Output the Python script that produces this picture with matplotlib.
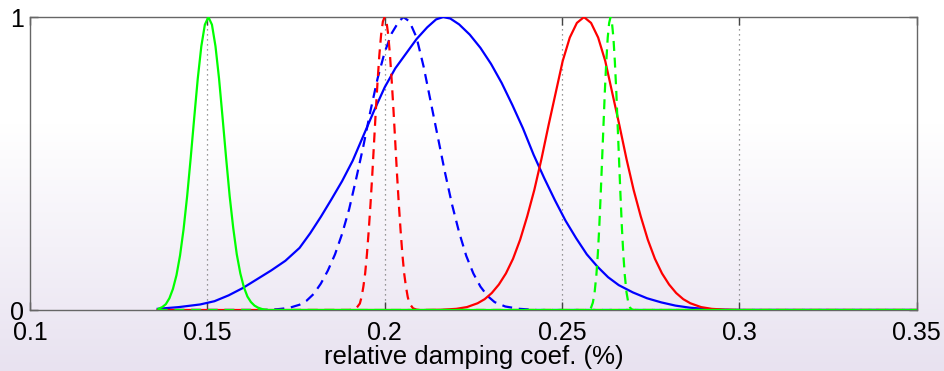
import numpy as np
import matplotlib.pyplot as plt
from matplotlib.colors import LinearSegmentedColormap

plt.rcParams['font.family'] = ['Liberation Sans', 'DejaVu Sans']

# ==========================================
# curve samples (x: relative damping, y: normalised pdf)
# ==========================================
blue_solid_x = [0.136, 0.142, 0.148, 0.152, 0.156, 0.160, 0.164, 0.168, 0.172, 0.176,
                0.179, 0.182, 0.185, 0.188, 0.191, 0.194, 0.197, 0.200, 0.203, 0.206,
                0.209, 0.212, 0.2145, 0.2165, 0.2185, 0.221, 0.224, 0.227, 0.230, 0.233,
                0.236, 0.239, 0.242, 0.245, 0.248, 0.251, 0.254, 0.257, 0.260, 0.263,
                0.266, 0.270, 0.274, 0.278, 0.282, 0.286, 0.290, 0.295, 0.300, 0.350]
blue_solid_y = [0.004, 0.010, 0.019, 0.030, 0.050, 0.075, 0.105, 0.135, 0.168, 0.212,
                0.262, 0.318, 0.378, 0.440, 0.510, 0.595, 0.680, 0.760, 0.825, 0.875,
                0.925, 0.965, 0.992, 1.000, 0.995, 0.975, 0.940, 0.895, 0.840, 0.775,
                0.700, 0.620, 0.530, 0.450, 0.375, 0.305, 0.245, 0.190, 0.148, 0.112,
                0.085, 0.060, 0.040, 0.026, 0.015, 0.008, 0.004, 0.001, 0.0, 0.0]

blue_dash_x = [0.136, 0.166, 0.170, 0.173, 0.176, 0.178, 0.180, 0.182, 0.184, 0.186,
               0.188, 0.190, 0.192, 0.194, 0.196, 0.198, 0.200, 0.202, 0.204, 0.2053,
               0.207, 0.209, 0.211, 0.213, 0.215, 0.217, 0.219, 0.221, 0.223, 0.225,
               0.227, 0.229, 0.231, 0.234, 0.238, 0.243, 0.350]
blue_dash_y = [0.0, 0.0, 0.003, 0.007, 0.018, 0.032, 0.055, 0.090, 0.135, 0.190,
               0.260, 0.345, 0.450, 0.560, 0.680, 0.790, 0.880, 0.945, 0.985, 1.000,
               0.985, 0.930, 0.830, 0.710, 0.590, 0.470, 0.360, 0.265, 0.185, 0.125,
               0.080, 0.048, 0.027, 0.012, 0.004, 0.0, 0.0]

red_dash_x = [0.136, 0.1900, 0.1910, 0.1920, 0.1930, 0.1935, 0.1940, 0.1945, 0.1950, 0.1955,
              0.1960, 0.1965, 0.1970, 0.1975, 0.1980, 0.1985, 0.1990, 0.1995, 0.2000,
              0.2005, 0.2010, 0.2015, 0.2020, 0.2025, 0.2030, 0.2035, 0.2040, 0.2045,
              0.2050, 0.2055, 0.2060, 0.2065, 0.2070, 0.2080, 0.2090, 0.2100, 0.350]
red_dash_y = [0.0, 0.0, 0.001, 0.006, 0.022, 0.045, 0.080, 0.125, 0.190, 0.270,
              0.360, 0.460, 0.570, 0.680, 0.780, 0.870, 0.940, 0.985, 1.000,
              0.985, 0.940, 0.870, 0.780, 0.680, 0.570, 0.460, 0.360, 0.270,
              0.190, 0.125, 0.080, 0.045, 0.022, 0.006, 0.001, 0.0, 0.0]

red_solid_x = [0.136, 0.2062, 0.2112, 0.2162, 0.2202, 0.2232, 0.2262, 0.2282, 0.2302, 0.2322,
               0.2342, 0.2362, 0.2382, 0.2402, 0.2422, 0.2442, 0.2462, 0.2482, 0.2502,
               0.2522, 0.2542, 0.2562,
               0.2582, 0.2602, 0.2622, 0.2642, 0.2662, 0.2682, 0.2702, 0.2722, 0.2742,
               0.2762, 0.2782, 0.2802, 0.2822, 0.2842, 0.2862, 0.2892, 0.2922, 0.2962,
               0.3012, 0.350]
red_solid_y = [0.0, 0.0, 0.0, 0.001, 0.004, 0.010, 0.023, 0.037, 0.058, 0.087,
               0.125, 0.175, 0.240, 0.320, 0.410, 0.515, 0.630, 0.740, 0.850,
               0.930, 0.980, 1.000,
               0.980, 0.930, 0.850, 0.740, 0.630, 0.515, 0.410, 0.320, 0.240,
               0.175, 0.125, 0.087, 0.058, 0.037, 0.023, 0.010, 0.004, 0.001,
               0.0, 0.0]

green_dash_x = [0.136, 0.2567, 0.2572, 0.2577, 0.2582, 0.2587, 0.2592, 0.2597, 0.2601, 0.2605,
                0.2609, 0.2613, 0.2617, 0.2621, 0.2625, 0.2629, 0.2633, 0.2637,
                0.2641, 0.2645, 0.2649, 0.2653, 0.2657, 0.2661, 0.2665, 0.2669, 0.2673,
                0.2677, 0.2682, 0.2687, 0.2692, 0.2697, 0.2702, 0.350]
green_dash_y = [0.0, 0.0, 0.0, 0.002, 0.008, 0.025, 0.060, 0.120, 0.190, 0.280,
                0.390, 0.510, 0.630, 0.750, 0.850, 0.930, 0.980, 1.000,
                0.980, 0.930, 0.850, 0.750, 0.630, 0.510, 0.390, 0.280, 0.190,
                0.120, 0.060, 0.025, 0.008, 0.002, 0.0, 0.0]

green_solid_x = [0.1362, 0.1373, 0.1383, 0.1393, 0.1403, 0.1413, 0.1423, 0.1433, 0.1443,
                 0.1453, 0.1463, 0.1473, 0.1483, 0.1493, 0.1503, 0.1513, 0.1523, 0.1533,
                 0.1543, 0.1553, 0.1563, 0.1573, 0.1583, 0.1593, 0.1603, 0.1613, 0.1623,
                 0.1633, 0.1643, 0.1655, 0.1670, 0.3500]
green_solid_y = [0.004, 0.010, 0.020, 0.040, 0.072, 0.119, 0.186, 0.276, 0.388,
                 0.518, 0.656, 0.790, 0.900, 0.974, 1.000, 0.974, 0.900, 0.790,
                 0.656, 0.518, 0.388, 0.280, 0.190, 0.125, 0.078, 0.046, 0.027,
                 0.015, 0.008, 0.003, 0.0, 0.0]

x_ticks = [0.1, 0.15, 0.2, 0.25, 0.3, 0.35]
x_tick_labels = ['0.1', '0.15', '0.2', '0.25', '0.3', '0.35']
grid_x = [0.15, 0.2, 0.25, 0.3]

fig = plt.figure(figsize=(9.44, 3.71), dpi=100)

# 浅紫色背景渐变（幻灯片底色）
bg = fig.add_axes([0, 0, 1, 1], zorder=-10)
cmap = LinearSegmentedColormap.from_list('bg', ['#e8e2f0', '#f4f1f8', '#ffffff', '#ffffff'])
grad = np.linspace(0, 1, 256).reshape(-1, 1)
bg.imshow(grad, aspect='auto', cmap=cmap, extent=[0, 1, 0, 1], origin='lower')
bg.axis('off')

ax = fig.add_axes([0.0318, 0.1644, 0.9392, 0.7896])
ax.set_facecolor('none')

for gx in grid_x:
    ax.axvline(gx, color='#777777', linestyle=(0, (1, 3)), linewidth=0.9, zorder=1)

lw = 1.6
dash = (0, (4.5, 3))
ax.plot(blue_dash_x, blue_dash_y, color='#0000ff', linestyle=dash, linewidth=lw, zorder=2)
ax.plot(blue_solid_x, blue_solid_y, color='#0000ff', linewidth=lw, zorder=3)
ax.plot(red_dash_x, red_dash_y, color='#ff0000', linestyle=dash, linewidth=lw, zorder=4)
ax.plot(red_solid_x, red_solid_y, color='#ff0000', linewidth=lw, zorder=5)
ax.plot(green_dash_x, green_dash_y, color='#00ff00', linestyle=dash, linewidth=lw, zorder=6)
ax.plot(green_solid_x, green_solid_y, color='#00ff00', linewidth=lw, zorder=7)

ax.set_xlim(0.1, 0.35)
ax.set_ylim(0, 1)
ax.set_xticks(x_ticks)
ax.set_xticklabels(x_tick_labels)
ax.set_yticks([0, 1])
ax.set_yticklabels(['0', '1'])
ax.tick_params(direction='in', length=6, width=1, color='#444444', labelsize=18,
               top=True, right=True)
ax.tick_params(axis='x', pad=8)
ax.tick_params(axis='y', pad=4)
for s in ax.spines.values():
    s.set_color('#666666')
    s.set_linewidth(1.0)

ax.set_xlabel('relative damping coef. (%)', fontsize=18.5, labelpad=0)

plt.savefig('out.png', dpi=100)
